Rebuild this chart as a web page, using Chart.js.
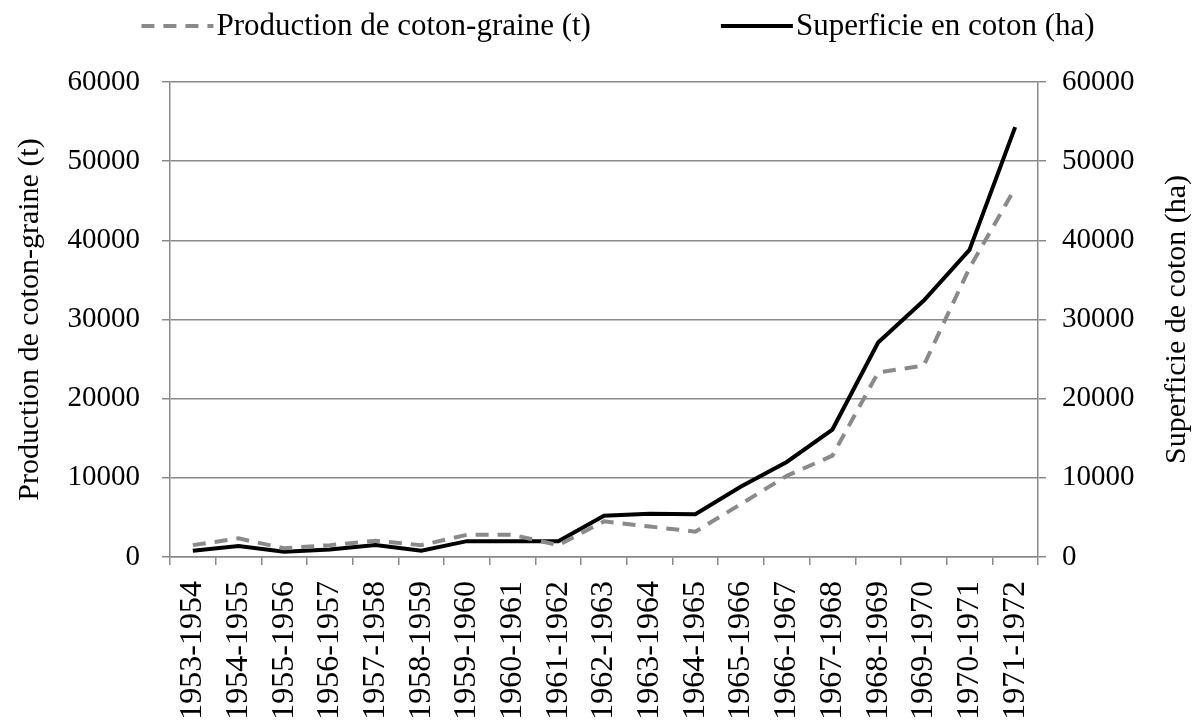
<!DOCTYPE html>
<html>
<head>
<meta charset="utf-8">
<script src="https://cdn.jsdelivr.net/npm/chart.js@4.4.0/dist/chart.umd.min.js"></script>
<style>
  html, body { margin: 0; padding: 0; background: #fff; }
  #wrap { width: 1195px; height: 722px; }
</style>
</head>
<body>
<div id="wrap"><canvas id="myChart"></canvas></div>
<script>
const campagnes = ['1953-1954', '1954-1955', '1955-1956', '1956-1957', '1957-1958', '1958-1959',
  '1959-1960', '1960-1961', '1961-1962', '1962-1963', '1963-1964', '1964-1965', '1965-1966',
  '1966-1967', '1967-1968', '1968-1969', '1969-1970', '1970-1971', '1971-1972']

// production de coton-graine (t), axe de gauche
const production = [1500, 2350, 1100, 1500, 2050, 1500, 2800, 2800, 1500, 4500, 3850, 3200,
  6700, 10250, 12800, 23300, 24200, 36500, 46600]

// superficie en coton (ha), axe de droite
const superficie = [800, 1400, 650, 950, 1500, 800, 2000, 2000, 2000, 5200, 5450, 5400,
  8900, 12000, 16100, 27100, 32400, 38800, 54300]

const yTicks = [0, 10000, 20000, 30000, 40000, 50000, 60000]

const grey = '#8a8a8a'
const serif = "'Liberation Serif', 'Times New Roman', serif"

Chart.defaults.font.family = serif
Chart.defaults.color = '#000'

// legende dessinee a la main (ecart entre les deux entrees plus large que celui de Chart.js)
const legendLines = {
  id: 'legendLines',
  afterDraw(chart) {
    const ctx = chart.ctx
    const sample = 72, gap = 3, between = 130, y = 26
    ctx.save()
    ctx.font = '31px ' + serif
    ctx.textBaseline = 'middle'
    const sets = chart.data.datasets
    const widths = sets.map(d => ctx.measureText(d.label).width)
    const total = sets.length * (sample + gap) + widths[0] + widths[1] + between
    let x = 618 - total / 2
    sets.forEach((d, i) => {
      ctx.strokeStyle = d.borderColor
      ctx.lineWidth = 4
      ctx.setLineDash(d.borderDash || [])
      ctx.beginPath()
      ctx.moveTo(x, y)
      ctx.lineTo(x + sample, y)
      ctx.stroke()
      ctx.setLineDash([])
      ctx.fillStyle = '#000'
      ctx.fillText(d.label, x + sample + gap, y + 1)
      x += sample + gap + widths[i] + between
    })
    ctx.restore()
  }
}

// titre de l'axe de droite, lu de bas en haut comme celui de gauche
const rightTitle = {
  id: 'rightTitle',
  afterDraw(chart) {
    const ctx = chart.ctx
    const area = chart.chartArea
    ctx.save()
    ctx.font = '30px ' + serif
    ctx.fillStyle = '#000'
    ctx.textAlign = 'center'
    ctx.textBaseline = 'middle'
    ctx.translate(1177, (area.top + area.bottom) / 2)
    ctx.rotate(-Math.PI / 2)
    ctx.fillText(chart.options.scales.y2.title.text, 0, 0)
    ctx.restore()
  }
}

const plain = v => String(v)

const mychart = new Chart(document.getElementById('myChart'), {
  type: 'line',
  data: {
    labels: campagnes,
    datasets: [{
      label: 'Production de coton-graine (t)',
      data: production,
      yAxisID: 'y',
      borderColor: grey,
      borderWidth: 4,
      borderDash: [13, 9],
      pointRadius: 0,
      tension: 0
    }, {
      label: 'Superficie en coton (ha)',
      data: superficie,
      yAxisID: 'y2',
      borderColor: '#000',
      borderWidth: 4,
      pointRadius: 0,
      tension: 0
    }]
  },
  options: {
    responsive: true,
    maintainAspectRatio: false,
    animation: false,
    layout: { padding: { top: 82, left: 0, right: 0, bottom: 0 } },
    plugins: {
      legend: { display: false },
      tooltip: { enabled: false }
    },
    scales: {
      x: {
        offset: true,
        grid: { offset: true, drawOnChartArea: false, color: grey, lineWidth: 1.5, tickLength: 8 },
        border: { color: grey, width: 1.5 },
        ticks: { font: { size: 32 }, maxRotation: 90, minRotation: 90, padding: 16, autoSkip: false },
        afterFit(scale) { scale.height = 165 }
      },
      y: {
        position: 'left',
        min: 0,
        max: 60000,
        afterBuildTicks(scale) { scale.ticks = yTicks.map(v => ({ value: v })) },
        grid: { color: grey, lineWidth: 1.5, tickLength: 8 },
        border: { color: grey, width: 1.5 },
        ticks: { font: { size: 29 }, padding: 22, callback: plain },
        title: { display: true, text: 'Production de coton-graine (t)', font: { size: 30 }, padding: { top: 12, bottom: 0 } },
        afterFit(scale) { scale.width = 170 }
      },
      y2: {
        position: 'right',
        min: 0,
        max: 60000,
        afterBuildTicks(scale) { scale.ticks = yTicks.map(v => ({ value: v })) },
        grid: { drawOnChartArea: false, color: grey, lineWidth: 1.5, tickLength: 8 },
        border: { color: grey, width: 1.5 },
        ticks: { font: { size: 29 }, padding: 16, callback: plain },
        title: { display: false, text: 'Superficie de coton (ha)' },
        afterFit(scale) { scale.width = 157 }
      }
    }
  },
  plugins: [legendLines, rightTitle]
})
</script>
</body>
</html>
